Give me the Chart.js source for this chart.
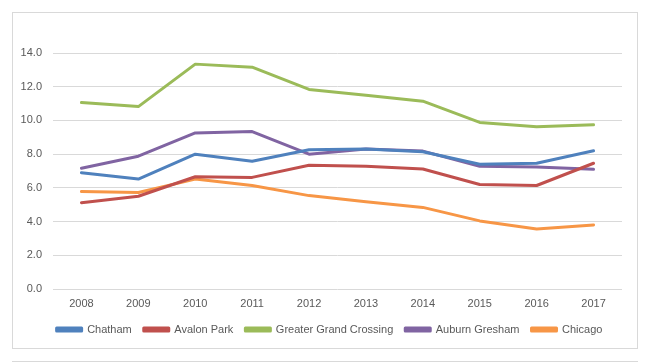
<!DOCTYPE html>
<html>
<head>
<meta charset="utf-8">
<script src="https://cdn.jsdelivr.net/npm/chart.js@4"></script>
<style>
  html, body { margin: 0; padding: 0; background: #fff; }
  body { width: 654px; height: 363px; position: relative; overflow: hidden; }
  #frame { position: absolute; left: 12px; top: 12px; width: 624px; height: 335px; border: 1px solid #d9d9d9; }
  #frame canvas { display: block; }
  #below { position: absolute; left: 12px; top: 361px; width: 626px; border-top: 1px solid #d9d9d9; }
</style>
</head>
<body>
<div id="frame"><canvas id="lineChart" width="624" height="335"></canvas></div>
<div id="below"></div>
<script>
const years = ["2008", "2009", "2010", "2011", "2012", "2013", "2014", "2015", "2016", "2017"];
const chatham = [6.90, 6.52, 8.00, 7.58, 8.26, 8.30, 8.14, 7.40, 7.46, 8.20];
const avalonPark = [5.12, 5.50, 6.66, 6.62, 7.34, 7.28, 7.12, 6.20, 6.14, 7.46];
const greaterGrandCrossing = [11.06, 10.82, 13.34, 13.16, 11.84, 11.50, 11.14, 9.88, 9.62, 9.74];
const auburnGresham = [7.16, 7.88, 9.26, 9.34, 8.00, 8.30, 8.18, 7.28, 7.24, 7.10];
const chicago = [5.78, 5.72, 6.52, 6.14, 5.54, 5.18, 4.84, 4.04, 3.56, 3.80];
const yTicks = [0, 2, 4, 6, 8, 10, 12, 14];

const textColor = "#595959";
const font = { family: "'Liberation Sans', Arial, sans-serif", size: 11 };

function series(label, data, color) {
  return {
    label,
    data,
    borderColor: color,
    backgroundColor: color,
    borderWidth: 3,
    borderJoinStyle: "round",
    borderCapStyle: "round",
    pointRadius: 0,
    tension: 0,
    fill: false,
  };
}

// nudge the legend a bit right, the Excel original is not centred on the plot
const legendShift = {
  id: "legendShift",
  afterLayout(chart) {
    if (!chart.legend) return;
    chart.legend.left += 12;
    chart.legend.right += 12;
  },
};

new Chart(document.getElementById("lineChart"), {
  type: "line",
  data: {
    labels: years,
    datasets: [
      series("Chatham", chatham, "#4f81bd"),
      series("Avalon Park", avalonPark, "#c0504d"),
      series("Greater Grand Crossing", greaterGrandCrossing, "#9bbb59"),
      series("Auburn Gresham", auburnGresham, "#8064a2"),
      series("Chicago", chicago, "#f79646"),
    ],
  },
  plugins: [legendShift],
  options: {
    responsive: false,
    animation: false,
    layout: { padding: { left: 0, right: 15, top: 40, bottom: 3 } },
    font,
    scales: {
      x: {
        offset: true,
        grid: { display: false, drawTicks: false },
        border: { display: false },
        afterFit: (scale) => { scale.height = 23; },
        ticks: { color: textColor, font, padding: 8, maxRotation: 0 },
      },
      y: {
        min: 0,
        max: 14,
        afterBuildTicks: (scale) => { scale.ticks = yTicks.map((v) => ({ value: v })); },
        afterFit: (scale) => { scale.width = 40; },
        grid: { color: "#d9d9d9", drawTicks: false, lineWidth: 1 },
        border: { display: false },
        ticks: {
          color: textColor,
          font,
          padding: 11,
          callback: (v) => Number(v).toFixed(1),
        },
      },
    },
    plugins: {
      legend: {
        position: "bottom",
        labels: {
          color: textColor,
          font,
          boxWidth: 25,
          boxHeight: 3,
          padding: 12,
        },
      },
      tooltip: { enabled: false },
    },
  },
});
</script>
</body>
</html>
